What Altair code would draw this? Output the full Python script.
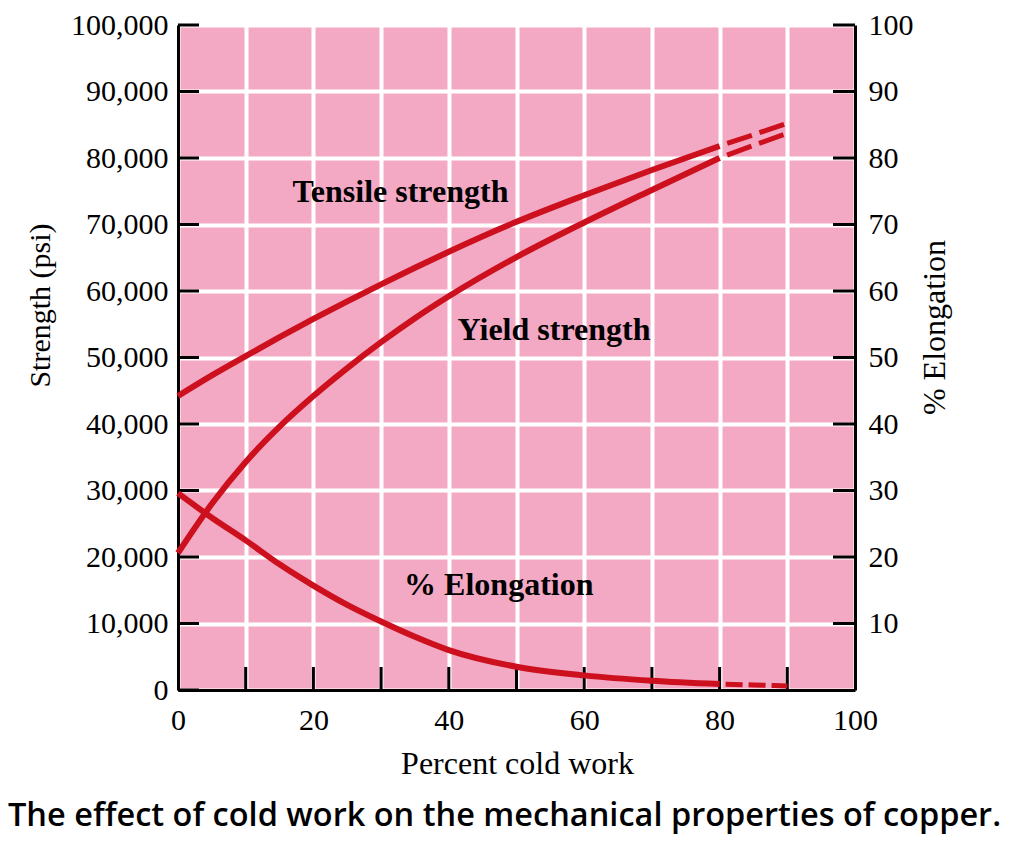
import altair as alt
import pandas as pd

# ---- data ----
cold_work = [0, 5, 10, 15, 20, 25, 30, 35, 40, 50, 60, 70, 80]
tensile = [44200, 47300, 50200, 53050, 55800, 58450, 61000, 63500, 65900, 70400, 74400, 78200, 81800]
yield_strength = [20600, 28000, 34300, 39600, 44200, 48400, 52300, 55900, 59200, 65100, 70300, 75200, 80000]
elongation = [29.6, 25.9, 22.5, 18.9, 15.7, 12.8, 10.3, 8.0, 6.0, 3.5, 2.2, 1.4, 0.9]

cold_work_ext = [80, 85, 90]
tensile_ext = [81800, 83500, 85200]
yield_ext = [80000, 81900, 83700]
elongation_ext = [0.9, 0.75, 0.6]

x_ticks = [0, 10, 20, 30, 40, 50, 60, 70, 80, 90, 100]
strength_ticks = [0, 10000, 20000, 30000, 40000, 50000, 60000, 70000, 80000, 90000, 100000]
elong_ticks = [10, 20, 30, 40, 50, 60, 70, 80, 90, 100]

labels_strength = ["Tensile strength", "Yield strength"]
labels_strength_x = [16.9, 41.3]
labels_strength_y = [73400, 52600]
label_elong = ["% Elongation"]
label_elong_x = [33.4]
label_elong_y = [14.3]

caption = "The effect of cold work on the mechanical properties of copper."

# ---- tables ----
rows = []
for name, xs, ys, part in [
    ("Tensile", cold_work, tensile, "solid"),
    ("Yield", cold_work, yield_strength, "solid"),
    ("Tensile", cold_work_ext, tensile_ext, "dashed"),
    ("Yield", cold_work_ext, yield_ext, "dashed"),
]:
    for a, b in zip(xs, ys):
        rows.append({"x": a, "y": b, "series": name, "part": part})
strength_df = pd.DataFrame(rows)

erows = []
for xs, es, part in [(cold_work, elongation, "solid"), (cold_work_ext, elongation_ext, "dashed")]:
    for a, b in zip(xs, es):
        erows.append({"x": a, "e": b, "part": part})
elong_df = pd.DataFrame(erows)

# ---- styling ----
W, H = 677, 665
RED = "#cc101e"
PINK = "#f3a8c3"
SERIF = "Liberation Serif"
LBL = 30

x_axis = alt.Axis(
    values=x_ticks, labelExpr="datum.value % 20 == 0 ? datum.label : ''",
    grid=True, gridColor="white", gridWidth=4, gridOpacity=1,
    ticks=False, tickSize=0, domainColor="black", domainWidth=3,
    labelFont=SERIF, labelFontSize=LBL, labelColor="black", labelPadding=15,
    labelFlush=False, labelOverlap=False,
    title="Percent cold work", titleFont=SERIF, titleFontSize=32, titleFontWeight="normal",
    titleColor="black", titleX=339, titleY=83, titleBaseline="alphabetic", titleAlign="center",
)
y_axis = alt.Axis(
    values=strength_ticks, format=",.0f",
    grid=True, gridColor="white", gridWidth=4, gridOpacity=1,
    ticks=False, tickSize=0, domainColor="black", domainWidth=3,
    labelFont=SERIF, labelFontSize=LBL, labelColor="black", labelPadding=10,
    labelFlush=False, labelOverlap=False,
    title="Strength (psi)", titleFont=SERIF, titleFontSize=30, titleFontWeight="normal",
    titleColor="black", titleX=-138, titleY=280, titleAngle=270,
    titleBaseline="middle", titleAlign="center",
)
e_axis = alt.Axis(
    orient="right", values=elong_ticks, grid=False,
    ticks=False, tickSize=0, domainColor="black", domainWidth=3,
    labelFont=SERIF, labelFontSize=LBL, labelColor="black", labelPadding=13,
    labelFlush=False, labelOverlap=False,
    title="% Elongation", titleFont=SERIF, titleFontSize=32, titleFontWeight="normal",
    titleColor="black", titleX=79, titleY=302, titleAngle=270,
    titleBaseline="middle", titleAlign="center",
)

x_scale = alt.Scale(domain=[0, 100], nice=False, zero=False)
y_scale = alt.Scale(domain=[0, 100000], nice=False)
e_scale = alt.Scale(domain=[0, 100], nice=False)

X = alt.X("x:Q", scale=x_scale, axis=x_axis)
Y = alt.Y("y:Q", scale=y_scale, axis=y_axis)
E = alt.Y("e:Q", scale=e_scale, axis=e_axis)

base_s = alt.Chart(strength_df)
s_solid = base_s.transform_filter("datum.part == 'solid'").mark_line(
    color=RED, strokeWidth=6, interpolate="monotone", strokeCap="butt"
).encode(x=X, y=Y, detail="series:N")
s_dash = base_s.transform_filter("datum.part == 'dashed'").mark_line(
    color=RED, strokeWidth=5, interpolate="monotone", strokeCap="butt",
    strokeDash=[26, 8], strokeDashOffset=26,
).encode(x=X, y=Y, detail="series:N")

left_ticks = alt.Chart(pd.DataFrame({"y": strength_ticks})).mark_rule(
    color="black", strokeWidth=3
).encode(y=Y, x=alt.value(0), x2=alt.value(21))
bottom_ticks = alt.Chart(pd.DataFrame({"x": x_ticks[1:-1]})).mark_rule(
    color="black", strokeWidth=3
).encode(x=X, y=alt.value(H), y2=alt.value(H - 23))

s_labels = alt.Chart(pd.DataFrame({
    "x": labels_strength_x, "y": labels_strength_y, "t": labels_strength
})).mark_text(
    font=SERIF, fontSize=32, fontWeight="bold", color="black",
    align="left", baseline="alphabetic"
).encode(x=X, y=Y, text="t:N")

cap = alt.Chart(pd.DataFrame({"t": [caption]})).mark_text(
    font="Open Sans", fontSize=32.5, fontWeight=600, color="black",
    align="left", baseline="alphabetic"
).encode(x=alt.value(-170), y=alt.value(801), text="t:N")

strength_group = alt.layer(s_solid, s_dash, left_ticks, bottom_ticks, s_labels, cap)

base_e = alt.Chart(elong_df)
e_solid = base_e.transform_filter("datum.part == 'solid'").mark_line(
    color=RED, strokeWidth=6, interpolate="monotone", strokeCap="butt"
).encode(x=X, y=E)
e_dash = base_e.transform_filter("datum.part == 'dashed'").mark_line(
    color=RED, strokeWidth=5, interpolate="monotone", strokeCap="butt",
    strokeDash=[17, 6], strokeDashOffset=17,
).encode(x=X, y=E)
right_ticks = alt.Chart(pd.DataFrame({"e": elong_ticks})).mark_rule(
    color="black", strokeWidth=3
).encode(y=E, x=alt.value(W - 22), x2=alt.value(W))
e_label = alt.Chart(pd.DataFrame({
    "x": label_elong_x, "e": label_elong_y, "t": label_elong
})).mark_text(
    font=SERIF, fontSize=32, fontWeight="bold", color="black",
    align="left", baseline="alphabetic"
).encode(x=X, y=E, text="t:N")

elong_group = alt.layer(e_solid, e_dash, right_ticks, e_label)

chart = alt.layer(strength_group, elong_group).resolve_scale(y="independent").properties(
    width=W, height=H,
    autosize=alt.AutoSizeParams(type="none"),
    padding={"left": 170, "top": 17, "right": 161, "bottom": 146},
    background="white",
).configure_view(fill=PINK, stroke=None)

chart.save("out.html", embed_options={"renderer": "svg", "actions": False})
